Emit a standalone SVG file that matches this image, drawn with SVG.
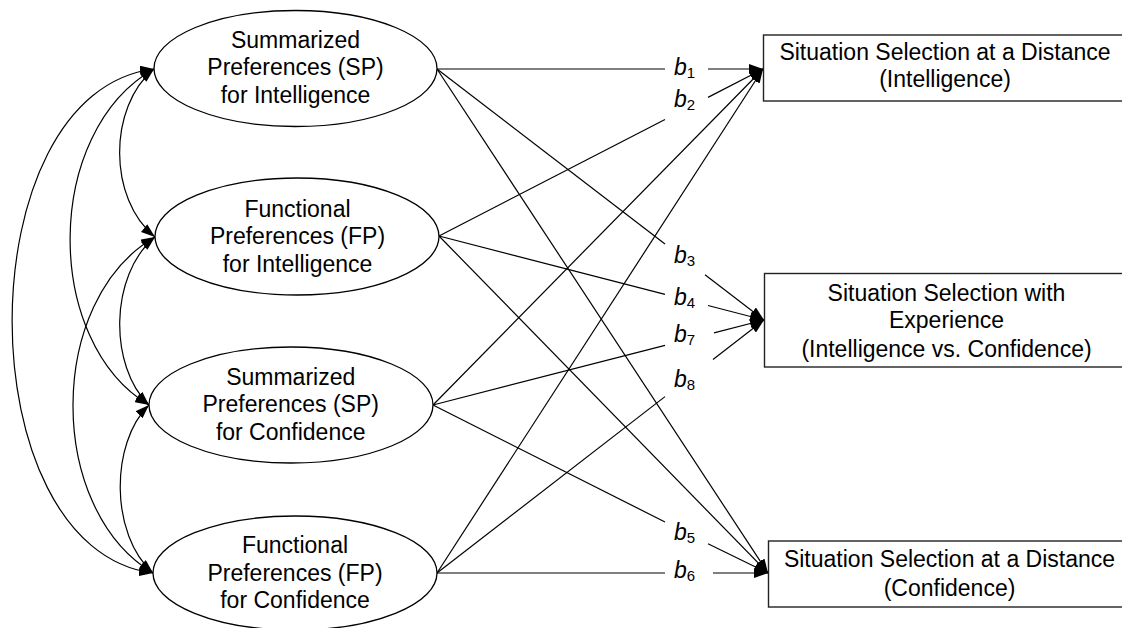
<svg xmlns="http://www.w3.org/2000/svg" width="1122" height="628" viewBox="0 0 1122 628">
  <style>
    .node { fill: #fff; stroke: #000; stroke-width: 1.3; }
    .box { fill: #fff; stroke: #222; stroke-width: 1.4; }
    .t { font-family: "Liberation Sans", Arial, Helvetica, sans-serif; font-size: 23px; fill: #000; text-anchor: middle; }
    .edge { fill: none; stroke: #000; stroke-width: 1.2; }
    .lbl { font-family: "Liberation Sans", Arial, Helvetica, sans-serif; font-size: 23px; font-style: italic; fill: #000; }
    .sub { font-size: 15px; font-style: normal; }
  </style>
  <defs>
    <marker id="arr" viewBox="0 0 14 10" refX="14" refY="5" markerWidth="14" markerHeight="10" markerUnits="userSpaceOnUse" orient="auto-start-reverse">
      <path d="M0,0 L14,5 L0,10 Z" fill="#000"/>
    </marker>
  </defs>
  <rect x="0" y="0" width="1122" height="628" fill="#fff"/>

  <g id="connectors">
    <!-- covariances (double headed curves) -->
    <path class="edge" d="M154,69 C-35,92 -35,549 153,573" marker-start="url(#arr)" marker-end="url(#arr)"/>
    <path class="edge" d="M154,69 C43,132 43,342 149,405" marker-start="url(#arr)" marker-end="url(#arr)"/>
    <path class="edge" d="M154,69 C108,107 108,199 155,237" marker-start="url(#arr)" marker-end="url(#arr)"/>
    <path class="edge" d="M155,237 C109,275 109,367 149,405" marker-start="url(#arr)" marker-end="url(#arr)"/>
    <path class="edge" d="M155,237 C46,300 46,509 153,573" marker-start="url(#arr)" marker-end="url(#arr)"/>
    <path class="edge" d="M149,405 C110,443 110,535 153,573" marker-start="url(#arr)" marker-end="url(#arr)"/>

    <!-- b1 -->
    <path class="edge" d="M437,69 L665,69"/>
    <path class="edge" d="M708,69 L763,69" marker-end="url(#arr)"/>
    <!-- b2 -->
    <path class="edge" d="M439,236 L665,119.5"/>
    <path class="edge" d="M708,97.4 L763,69" marker-end="url(#arr)"/>
    <!-- unlabeled to box 1 -->
    <path class="edge" d="M433,405 L763,69" marker-end="url(#arr)"/>
    <path class="edge" d="M437,573 L763,69" marker-end="url(#arr)"/>
    <!-- b3 -->
    <path class="edge" d="M437,69 L665,244"/>
    <path class="edge" d="M705,274.7 L764,320" marker-end="url(#arr)"/>
    <!-- b4 -->
    <path class="edge" d="M439,236 L665,294.4"/>
    <path class="edge" d="M708,305.5 L764,320" marker-end="url(#arr)"/>
    <!-- b7 -->
    <path class="edge" d="M433,405 L665,345.4"/>
    <path class="edge" d="M714,332.8 L764,320" marker-end="url(#arr)"/>
    <!-- b8 -->
    <path class="edge" d="M437,573 L665,396.6"/>
    <path class="edge" d="M713,359.5 L764,320" marker-end="url(#arr)"/>
    <!-- unlabeled to box 3 -->
    <path class="edge" d="M437,69 L768,573" marker-end="url(#arr)"/>
    <path class="edge" d="M439,236 L768,573" marker-end="url(#arr)"/>
    <!-- b5 -->
    <path class="edge" d="M433,405 L665,522"/>
    <path class="edge" d="M708,543.7 L768,573" marker-end="url(#arr)"/>
    <!-- b6 -->
    <path class="edge" d="M437,573 L665,573"/>
    <path class="edge" d="M713,573 L768,573" marker-end="url(#arr)"/>
  </g>

  <g id="edge-labels">
    <text class="lbl" x="674" y="75">b<tspan class="sub" dy="3">1</tspan></text>
    <text class="lbl" x="674" y="107">b<tspan class="sub" dy="3">2</tspan></text>
    <text class="lbl" x="674" y="263">b<tspan class="sub" dy="3">3</tspan></text>
    <text class="lbl" x="674" y="305">b<tspan class="sub" dy="3">4</tspan></text>
    <text class="lbl" x="674" y="342">b<tspan class="sub" dy="3">7</tspan></text>
    <text class="lbl" x="674" y="387">b<tspan class="sub" dy="3">8</tspan></text>
    <text class="lbl" x="674" y="540">b<tspan class="sub" dy="3">5</tspan></text>
    <text class="lbl" x="674" y="578">b<tspan class="sub" dy="3">6</tspan></text>
  </g>

  <g id="node-sp-intelligence">
    <ellipse class="node" cx="295.5" cy="68.5" rx="141.5" ry="58"/>
    <text class="t" x="295.5" y="48">Summarized</text>
    <text class="t" x="295.5" y="75">Preferences (SP)</text>
    <text class="t" x="295.5" y="103">for Intelligence</text>
  </g>
  <g id="node-fp-intelligence">
    <ellipse class="node" cx="297" cy="236.5" rx="142" ry="58.5"/>
    <text class="t" x="297.5" y="216.5">Functional</text>
    <text class="t" x="297.5" y="243.5">Preferences (FP)</text>
    <text class="t" x="297.5" y="271.5">for Intelligence</text>
  </g>
  <g id="node-sp-confidence">
    <ellipse class="node" cx="291" cy="405" rx="142" ry="58"/>
    <text class="t" x="290.7" y="385">Summarized</text>
    <text class="t" x="290.7" y="411.7">Preferences (SP)</text>
    <text class="t" x="290.7" y="440">for Confidence</text>
  </g>
  <g id="node-fp-confidence">
    <ellipse class="node" cx="295" cy="573" rx="142" ry="57"/>
    <text class="t" x="295" y="553.3">Functional</text>
    <text class="t" x="295" y="580.7">Preferences (FP)</text>
    <text class="t" x="295" y="608.3">for Confidence</text>
  </g>

  <g id="node-ssd-intelligence">
    <rect class="box" x="763.5" y="35" width="364" height="66"/>
    <text class="t" x="945" y="60">Situation Selection at a Distance</text>
    <text class="t" x="945" y="87">(Intelligence)</text>
  </g>
  <g id="node-sse">
    <rect class="box" x="764.5" y="273.5" width="364" height="93.5"/>
    <text class="t" x="946.5" y="300.5">Situation Selection with</text>
    <text class="t" x="946.5" y="328">Experience</text>
    <text class="t" x="946.5" y="356.5">(Intelligence vs. Confidence)</text>
  </g>
  <g id="node-ssd-confidence">
    <rect class="box" x="768.5" y="541" width="364" height="66"/>
    <text class="t" x="949.5" y="567.3">Situation Selection at a Distance</text>
    <text class="t" x="949.5" y="596">(Confidence)</text>
  </g>
</svg>
